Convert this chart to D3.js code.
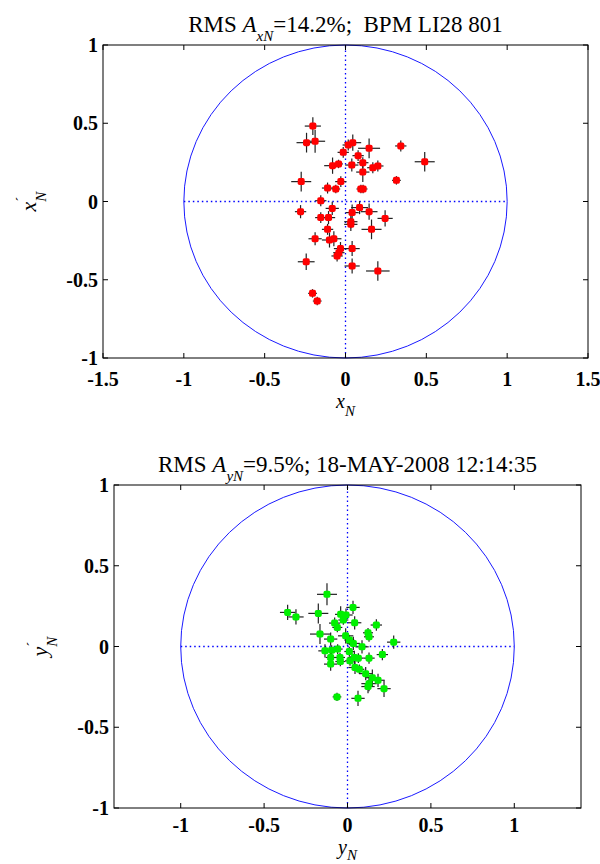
<!DOCTYPE html>
<html>
<head>
<meta charset="utf-8">
<script src="https://cdn.jsdelivr.net/npm/d3@7"></script>
<style>
  body { margin: 0; background: #fff; }
  svg { display: block; }
</style>
</head>
<body>
<script>
// normalized phase space, two panels (x and y planes)

// top panel: x_N vs x'_N
var topX = [-0.202,-0.241,-0.188,0.045,0.017,0.146,0.342,-0.014,0.078,0.49,-0.08,-0.043,0.039,0.107,0.169,0.2,0.107,-0.274,-0.029,-0.111,-0.06,0.095,0.109,0.315,-0.153,-0.278,-0.082,0.087,0.146,0.041,-0.153,-0.105,0.245,0.033,0.033,-0.111,0.161,-0.188,-0.099,-0.072,-0.031,0.041,-0.041,-0.052,-0.243,0.041,0.2,-0.204,-0.175];
var topY = [0.482,0.376,0.385,0.376,0.361,0.34,0.355,0.314,0.293,0.254,0.229,0.24,0.233,0.248,0.216,0.227,0.188,0.127,0.127,0.086,0.08,0.08,0.08,0.135,0.005,-0.065,-0.044,-0.039,-0.065,-0.071,-0.103,-0.103,-0.108,-0.129,-0.146,-0.178,-0.178,-0.238,-0.246,-0.238,-0.301,-0.301,-0.327,-0.348,-0.385,-0.412,-0.444,-0.587,-0.636];
var topXErr = [0.05,0.062,0.062,0.052,0.035,0.068,0.035,0.035,0.035,0.062,0.052,0.027,0.041,0.035,0.035,0.035,0.041,0.062,0.035,0.035,0.027,0.027,0.027,0.027,0.035,0.035,0.041,0.052,0.052,0.041,0.035,0.041,0.047,0.041,0.041,0.035,0.062,0.041,0.047,0.047,0.041,0.047,0.035,0.035,0.052,0.047,0.073,0.027,0.027];
var topYErr = [0.057,0.063,0.074,0.052,0.035,0.063,0.035,0.035,0.035,0.063,0.052,0.027,0.042,0.035,0.035,0.035,0.063,0.063,0.035,0.035,0.027,0.027,0.027,0.027,0.035,0.042,0.042,0.042,0.052,0.052,0.035,0.042,0.052,0.042,0.042,0.035,0.063,0.042,0.048,0.048,0.042,0.048,0.035,0.035,0.052,0.048,0.063,0.027,0.027];

// bottom panel: y_N vs y'_N
var botX = [-0.123,-0.359,-0.309,-0.175,0.033,-0.041,-0.009,-0.025,-0.077,-0.061,0.043,0.173,0.123,0.129,-0.165,-0.011,-0.101,0.011,0.035,0.277,0.087,-0.135,-0.095,-0.059,0.011,-0.101,-0.045,0.041,0.065,0.129,0.209,-0.101,-0.043,0.015,0.045,0.071,0.109,0.149,0.183,0.129,0.123,0.219,-0.063,0.063];
var botY = [0.323,0.211,0.183,0.205,0.242,0.199,0.195,0.164,0.145,0.118,0.147,0.133,0.085,0.06,0.077,0.066,0.046,0.04,0.019,0.027,-0.002,-0.027,-0.023,-0.016,-0.031,-0.068,-0.068,-0.068,-0.072,-0.072,-0.05,-0.109,-0.093,-0.089,-0.13,-0.141,-0.168,-0.193,-0.209,-0.23,-0.248,-0.261,-0.312,-0.321];
var botXErr = [0.06,0.046,0.046,0.06,0.04,0.034,0.04,0.03,0.034,0.03,0.04,0.034,0.03,0.03,0.06,0.046,0.04,0.03,0.04,0.04,0.04,0.04,0.03,0.03,0.03,0.03,0.03,0.04,0.03,0.034,0.034,0.04,0.03,0.03,0.04,0.03,0.04,0.04,0.04,0.046,0.04,0.04,0.026,0.04];
var botYErr = [0.068,0.047,0.047,0.062,0.041,0.051,0.041,0.03,0.035,0.03,0.041,0.035,0.03,0.03,0.062,0.047,0.041,0.03,0.041,0.041,0.041,0.041,0.03,0.03,0.03,0.03,0.03,0.041,0.03,0.035,0.035,0.041,0.03,0.03,0.041,0.03,0.041,0.051,0.041,0.047,0.041,0.051,0.026,0.047];

var topXTicks = [-1.5,-1,-0.5,0,0.5,1,1.5],
    botXTicks = [-1,-0.5,0,0.5,1],
    yTicks = [-1,-0.5,0,0.5,1];

var serif = "'Liberation Serif', 'Times New Roman', serif";

var svg = d3.select("body")
    .append("svg")
    .attr("width", 600)
    .attr("height", 864);

function panel(cfg) {
    var x = d3.scaleLinear().domain(cfg.xDomain).range([cfg.left, cfg.right]);
    var y = d3.scaleLinear().domain([-1, 1]).range([cfg.bottom, cfg.top]);

    var g = svg.append("g");

    // unit circle
    g.append("ellipse")
        .attr("cx", x(0))
        .attr("cy", y(0))
        .attr("rx", x(1) - x(0))
        .attr("ry", y(0) - y(1))
        .attr("fill", "none")
        .attr("stroke", "#1a1aff")
        .attr("stroke-width", 1);

    // dotted cross
    g.append("line")
        .attr("x1", x(-1)).attr("x2", x(1))
        .attr("y1", y(0)).attr("y2", y(0))
        .attr("stroke", "#0000ff")
        .attr("stroke-width", 1.3)
        .attr("stroke-dasharray", "1.5,3");
    g.append("line")
        .attr("x1", x(0)).attr("x2", x(0))
        .attr("y1", y(-1)).attr("y2", y(1))
        .attr("stroke", "#0000ff")
        .attr("stroke-width", 1.3)
        .attr("stroke-dasharray", "1.5,3");

    var pts = cfg.xs.map(function(d, i) {
        return { x: d, y: cfg.ys[i], ex: cfg.exs[i], ey: cfg.eys[i] };
    });

    // error bars
    var eb = g.append("g").attr("stroke", "#222").attr("stroke-width", 1.2);
    eb.selectAll(".h").data(pts).enter().append("line")
        .attr("x1", function(d) { return x(d.x - d.ex); })
        .attr("x2", function(d) { return x(d.x + d.ex); })
        .attr("y1", function(d) { return y(d.y); })
        .attr("y2", function(d) { return y(d.y); });
    eb.selectAll(".v").data(pts).enter().append("line")
        .attr("x1", function(d) { return x(d.x); })
        .attr("x2", function(d) { return x(d.x); })
        .attr("y1", function(d) { return y(d.y - d.ey); })
        .attr("y2", function(d) { return y(d.y + d.ey); });

    // markers
    g.selectAll(".pt").data(pts).enter().append("rect")
        .attr("x", function(d) { return x(d.x) - 3.5; })
        .attr("y", function(d) { return y(d.y) - 3.5; })
        .attr("width", 7)
        .attr("height", 7)
        .attr("rx", 1.8)
        .attr("fill", cfg.color);

    // box
    g.append("rect")
        .attr("x", cfg.left).attr("y", cfg.top)
        .attr("width", cfg.right - cfg.left)
        .attr("height", cfg.bottom - cfg.top)
        .attr("fill", "none")
        .attr("stroke", "#000")
        .attr("stroke-width", 1);

    // inward ticks on all sides
    var tk = 5;
    var tg = g.append("g").attr("stroke", "#000");
    cfg.xTicks.forEach(function(t) {
        tg.append("line").attr("x1", x(t)).attr("x2", x(t)).attr("y1", cfg.bottom).attr("y2", cfg.bottom - tk);
        tg.append("line").attr("x1", x(t)).attr("x2", x(t)).attr("y1", cfg.top).attr("y2", cfg.top + tk);
    });
    yTicks.forEach(function(t) {
        tg.append("line").attr("x1", cfg.left).attr("x2", cfg.left + tk).attr("y1", y(t)).attr("y2", y(t));
        tg.append("line").attr("x1", cfg.right).attr("x2", cfg.right - tk).attr("y1", y(t)).attr("y2", y(t));
    });

    // tick labels
    g.selectAll(".xl").data(cfg.xTicks).enter().append("text")
        .attr("x", function(d) { return x(d); })
        .attr("y", cfg.bottom + cfg.tickOff)
        .attr("text-anchor", "middle")
        .attr("font-family", serif)
        .attr("font-size", "20px")
        .attr("font-weight", "bold")
        .text(function(d) { return String(d); });
    g.selectAll(".yl").data(yTicks).enter().append("text")
        .attr("x", cfg.left - 5)
        .attr("y", function(d) { return y(d) + 7; })
        .attr("text-anchor", "end")
        .attr("font-family", serif)
        .attr("font-size", "20px")
        .attr("font-weight", "bold")
        .text(function(d) { return String(d); });

    // title
    var ti = g.append("text")
        .attr("x", (cfg.left + cfg.right) / 2)
        .attr("y", cfg.top - 13)
        .attr("text-anchor", "middle")
        .attr("font-family", serif)
        .attr("font-size", "23px")
        .style("white-space", "pre");
    ti.append("tspan").text("RMS ");
    ti.append("tspan").attr("font-style", "italic").text("A");
    ti.append("tspan").attr("font-style", "italic").attr("font-size", "15px").attr("dy", 9).text(cfg.sub);
    ti.append("tspan").attr("dy", -9).text(cfg.titleRest);

    // x label
    var xl = g.append("text")
        .attr("x", x(0))
        .attr("y", cfg.bottom + cfg.xlabOff)
        .attr("text-anchor", "middle")
        .attr("font-family", serif)
        .attr("font-style", "italic")
        .attr("font-size", "20px");
    xl.append("tspan").text(cfg.axisVar);
    xl.append("tspan").attr("font-size", "15px").attr("dy", cfg.subDy).text("N");

    // y label (rotated)
    var yl = g.append("text")
        .attr("transform", "translate(" + (cfg.left - 67) + "," + y(0) + ") rotate(-90)")
        .attr("text-anchor", "middle")
        .attr("font-family", serif)
        .attr("font-style", "italic")
        .attr("font-size", "22px");
    yl.append("tspan").text(cfg.axisVar);
    yl.append("tspan").attr("font-size", "15px").attr("dy", -10).attr("font-style", "normal").text("\u00B4");
    yl.append("tspan").attr("font-size", "15px").attr("dx", -5).attr("dy", 20).text("N");
}

panel({
    left: 103, right: 588, top: 45, bottom: 358,
    xDomain: [-1.5, 1.5], xTicks: topXTicks,
    xs: topX, ys: topY, exs: topXErr, eys: topYErr,
    color: "#ff0000",
    sub: "xN", titleRest: "=14.2%;  BPM LI28 801",
    axisVar: "x", tickOff: 28, xlabOff: 50, subDy: 8
});

panel({
    left: 114, right: 581, top: 485, bottom: 808,
    xDomain: [-1.4, 1.4], xTicks: botXTicks,
    xs: botX, ys: botY, exs: botXErr, eys: botYErr,
    color: "#00f000",
    sub: "yN", titleRest: "=9.5%; 18-MAY-2008 12:14:35",
    axisVar: "y", tickOff: 24, xlabOff: 46, subDy: 6
});
</script>
</body>
</html>
